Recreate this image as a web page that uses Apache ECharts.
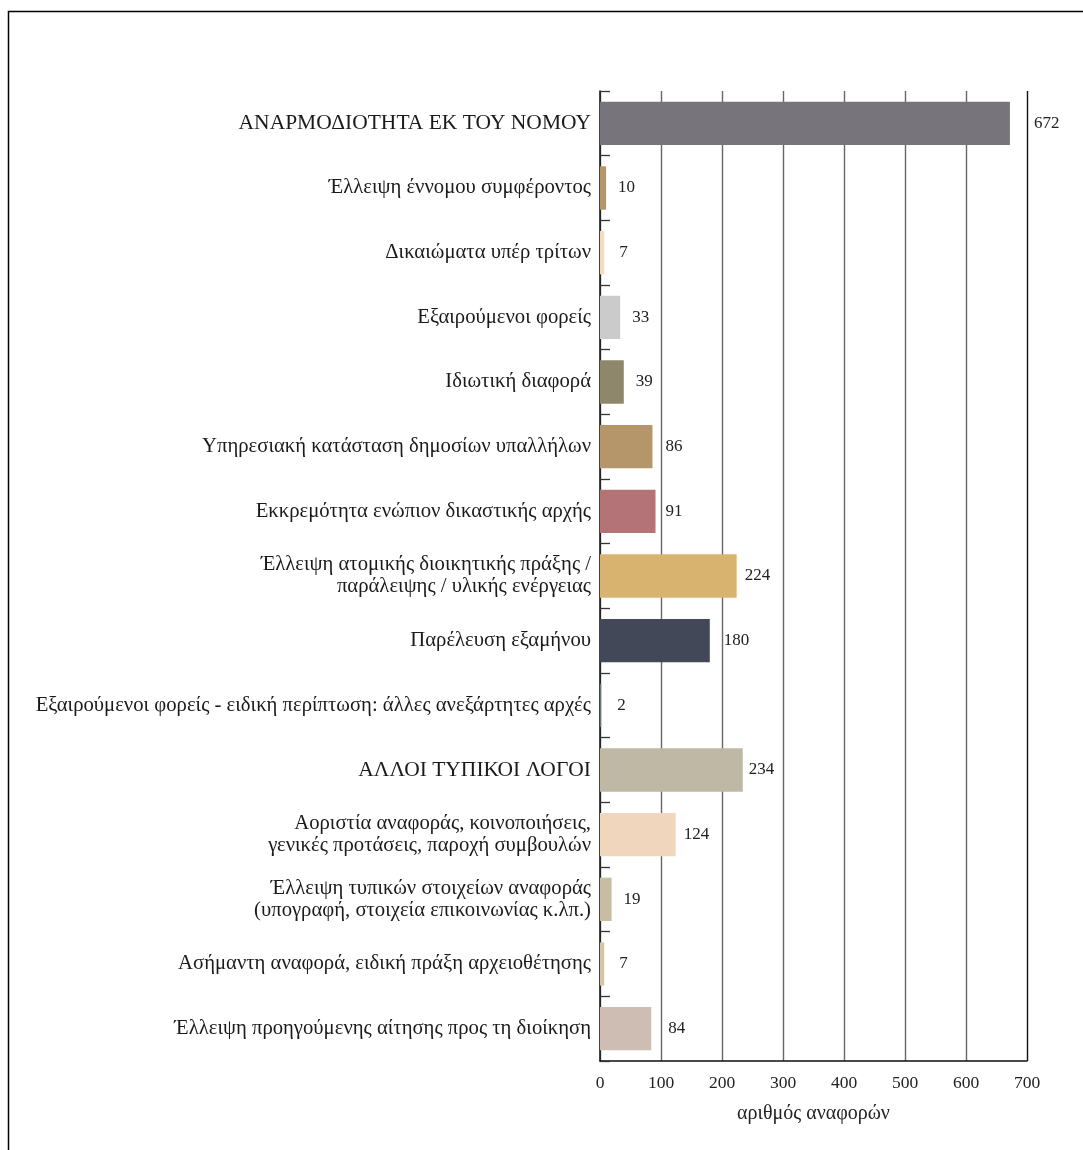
<!DOCTYPE html>
<html>
<head>
<meta charset="utf-8">
<script src="https://cdn.jsdelivr.net/npm/echarts@6/dist/echarts.min.js"></script>
<style>
html,body{margin:0;padding:0;background:#fff;}
#chart{width:1083px;height:1150px;}
</style>
</head>
<body>
<div id="chart"></div>
<script>
const categories = [
  "ΑΝΑΡΜΟΔΙΟΤΗΤΑ ΕΚ ΤΟΥ ΝΟΜΟΥ",
  "Έλλειψη έννομου συμφέροντος",
  "Δικαιώματα υπέρ τρίτων",
  "Εξαιρούμενοι φορείς",
  "Ιδιωτική διαφορά",
  "Υπηρεσιακή κατάσταση δημοσίων υπαλλήλων",
  "Εκκρεμότητα ενώπιον δικαστικής αρχής",
  "Έλλειψη ατομικής διοικητικής πράξης /\nπαράλειψης / υλικής ενέργειας",
  "Παρέλευση εξαμήνου",
  "Εξαιρούμενοι φορείς - ειδική περίπτωση: άλλες ανεξάρτητες αρχές",
  "ΑΛΛΟΙ ΤΥΠΙΚΟΙ ΛΟΓΟΙ",
  "Αοριστία αναφοράς, κοινοποιήσεις,\nγενικές προτάσεις, παροχή συμβουλών",
  "Έλλειψη τυπικών στοιχείων αναφοράς\n(υπογραφή, στοιχεία επικοινωνίας κ.λπ.)",
  "Ασήμαντη αναφορά, ειδική πράξη αρχειοθέτησης",
  "Έλλειψη προηγούμενης αίτησης προς τη διοίκηση"
];
const values = [672, 10, 7, 33, 39, 86, 91, 224, 180, 2, 234, 124, 19, 7, 84];
const xTicks = [0, 100, 200, 300, 400, 500, 600, 700];
const xAxisName = "αριθμός αναφορών";

// styling
const barColors = ["#78747b","#b5966b","#f1dcc0","#cbcbcb","#8f876c","#b4966a","#b37377","#d7b36f","#424858","#677a70","#bfb8a5","#efd6bd","#c9bca4","#d8c5a9","#cebdb3"];
const labelDist = [24, 12, 15, 12, 12, 13, 10, 8, 14, 16, 6, 8, 12, 15, 17];
const upperIdx = [0, 10];

const font = '"Liberation Serif", "DejaVu Serif", serif';
const data = values.map((v, i) => ({
  value: v,
  itemStyle: { color: barColors[i] },
  label: { distance: labelDist[i] }
}));

const chart = echarts.init(document.getElementById('chart'));
chart.setOption({
  animation: false,
  graphic: [{
    type: 'rect',
    shape: { x: 8.5, y: 11.5, width: 1200, height: 1300 },
    style: { fill: 'none', stroke: '#000', lineWidth: 1.5 },
    silent: true
  }],
  grid: { left: 600, right: 56, top: 91, bottom: 89 },
  xAxis: {
    type: 'value',
    min: 0, max: 700, interval: 100,
    name: xAxisName,
    nameLocation: 'middle',
    nameGap: 43,
    nameTextStyle: { fontFamily: font, fontSize: 20, color: '#222' },
    axisLine: { show: true, lineStyle: { color: '#111', width: 1.5 } },
    axisTick: { show: false },
    axisLabel: {
      margin: 13, fontFamily: font, fontSize: 17.5, color: '#222',
      formatter: v => xTicks.includes(v) ? String(v) : ''
    },
    splitLine: { show: true, lineStyle: { color: ['#666','#666','#666','#666','#666','#666','#666','#111'], width: 1.4 } }
  },
  yAxis: {
    type: 'category',
    data: categories,
    inverse: true,
    axisLine: { show: true, lineStyle: { color: '#111', width: 1.5 } },
    axisTick: { show: true, inside: true, length: 10, lineStyle: { color: '#333', width: 1.3 } },
    axisLabel: {
      margin: 9,
      fontFamily: font,
      fontSize: 20.7,
      lineHeight: 22,
      color: '#1a1a1a',
      formatter: (v, i) => upperIdx.includes(i) ? '{u|' + v + '}' : v,
      rich: { u: { fontFamily: font, fontSize: 21.5, color: '#1a1a1a' } }
    }
  },
  series: [{
    type: 'bar',
    data: data,
    barCategoryGap: '33%',
    label: {
      show: true,
      position: 'right',
      fontFamily: font,
      fontSize: 17,
      color: '#222'
    }
  }]
});
</script>
</body>
</html>
